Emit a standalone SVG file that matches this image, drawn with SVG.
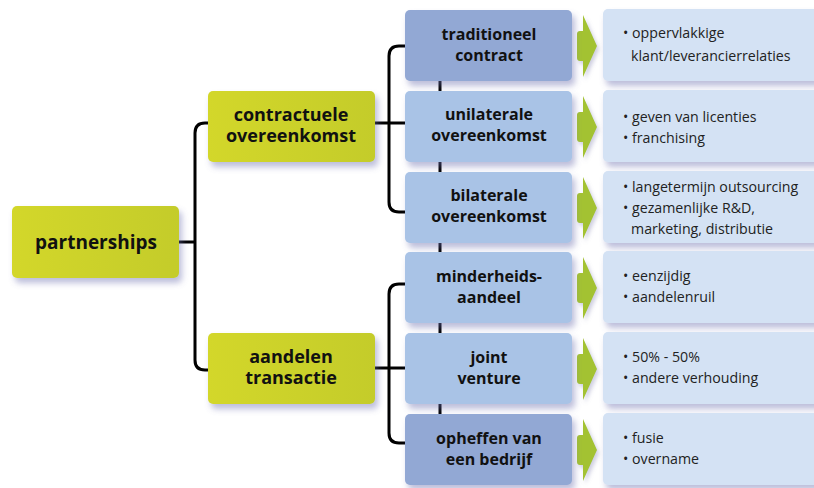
<svg xmlns="http://www.w3.org/2000/svg" width="814" height="488" viewBox="0 0 814 488">
<defs>
<linearGradient id="gGreen" x1="0" y1="0" x2="1" y2="0"><stop offset="0" stop-color="#d3d72b"/><stop offset="1" stop-color="#c4cc2b"/></linearGradient>
<filter id="sh" x="-10%" y="-20%" width="125%" height="150%"><feDropShadow dx="3" dy="5" stdDeviation="3" flood-color="#6b6fae" flood-opacity="0.45"/></filter>
<filter id="shA" x="-50%" y="-20%" width="200%" height="150%"><feDropShadow dx="2" dy="3" stdDeviation="2" flood-color="#8080b0" flood-opacity="0.4"/></filter>
<path id="arr" d="M583 0 L597 31 L583 62 L583 46 L580 46 Q577 46 577 43 L577 19 Q577 16 580 16 L583 16 Z"/>
</defs>
<style>
.green{fill:url(#gGreen);filter:url(#sh)}
.dark{fill:#92a8d4;filter:url(#sh)}
.light{fill:#a9c3e6;filter:url(#sh)}
.pale{fill:#d4e2f4;filter:url(#sh)}
.arrow{fill:#a3c232;filter:url(#shA)}
.lbl{font-family:"Open Sans","Noto Sans",sans-serif;font-weight:700;fill:#111;text-anchor:middle}
.big{font-size:18px}
.mid{font-size:16px}
.item{font-family:"Open Sans","Noto Sans",sans-serif;font-size:14.2px;fill:#222}
.ln{fill:none;stroke:#000;stroke-width:3}
</style>
<rect width="814" height="488" fill="#fff"/>
<g id="connectors">
<path class="ln" d="M440 60 V440"/>
<path class="ln" d="M179 242 H195"/>
<path class="ln" d="M208 123 H205 Q195 123 195 133 V360 Q195 370 205 370 H208"/>
<path class="ln" d="M375 123 H405"/>
<path class="ln" d="M405 46 H399 Q389 46 389 56 V202 Q389 212 399 212 H405"/>
<path class="ln" d="M375 368 H405"/>
<path class="ln" d="M405 284 H399 Q389 284 389 294 V433 Q389 443 399 443 H405"/>
</g>
<g id="arrows">
<use href="#arr" class="arrow" transform="translate(0,15)"/>
<use href="#arr" class="arrow" transform="translate(0,96)"/>
<use href="#arr" class="arrow" transform="translate(0,177)"/>
<use href="#arr" class="arrow" transform="translate(0,257)"/>
<use href="#arr" class="arrow" transform="translate(0,338)"/>
<use href="#arr" class="arrow" transform="translate(0,419)"/>
</g>
<g id="partnerships"><rect class="green" x="12" y="206" width="167" height="72" rx="5"/><text class="lbl" font-size="19" x="96" y="249">partnerships</text></g>
<g id="contractuele"><rect class="green" x="208" y="91" width="167" height="71" rx="5"/><text class="lbl big" x="291" y="121">contractuele</text><text class="lbl big" x="291" y="142">overeenkomst</text></g>
<g id="aandelen"><rect class="green" x="208" y="333" width="167" height="71" rx="5"/><text class="lbl big" x="291" y="363">aandelen</text><text class="lbl big" x="291" y="384">transactie</text></g>
<g id="traditioneel"><rect class="dark" x="405" y="10" width="167" height="71" rx="5"/><text class="lbl mid" x="489" y="40">traditioneel</text><text class="lbl mid" x="489" y="61">contract</text></g>
<g id="unilaterale"><rect class="light" x="405" y="91" width="167" height="71" rx="5"/><text class="lbl mid" x="489" y="120">unilaterale</text><text class="lbl mid" x="489" y="141">overeenkomst</text></g>
<g id="bilaterale"><rect class="light" x="405" y="172" width="167" height="71" rx="5"/><text class="lbl mid" x="489" y="201">bilaterale</text><text class="lbl mid" x="489" y="222">overeenkomst</text></g>
<g id="minderheids"><rect class="light" x="405" y="252" width="167" height="71" rx="5"/><text class="lbl mid" x="489" y="282">minderheids-</text><text class="lbl mid" x="489" y="303">aandeel</text></g>
<g id="joint"><rect class="light" x="405" y="333" width="167" height="71" rx="5"/><text class="lbl mid" x="489" y="363">joint</text><text class="lbl mid" x="489" y="384">venture</text></g>
<g id="opheffen"><rect class="dark" x="405" y="414" width="167" height="71" rx="5"/><text class="lbl mid" x="489" y="444">opheffen van</text><text class="lbl mid" x="489" y="465">een bedrijf</text></g>
<g id="r1"><rect class="pale" x="603" y="9" width="230" height="72" rx="5"/><text class="item" x="623" y="38">• oppervlakkige</text><text class="item" x="631" y="61">klant/leverancierrelaties</text></g>
<g id="r2"><rect class="pale" x="603" y="90" width="230" height="72" rx="5"/><text class="item" x="623" y="122">• geven van licenties</text><text class="item" x="623" y="143">• franchising</text></g>
<g id="r3"><rect class="pale" x="603" y="171" width="230" height="72" rx="5"/><text class="item" x="623" y="192">• langetermijn outsourcing</text><text class="item" x="623" y="213">• gezamenlijke R&amp;D,</text><text class="item" x="631" y="234">marketing, distributie</text></g>
<g id="r4"><rect class="pale" x="603" y="251" width="230" height="72" rx="5"/><text class="item" x="623" y="281">• eenzijdig</text><text class="item" x="623" y="302">• aandelenruil</text></g>
<g id="r5"><rect class="pale" x="603" y="332" width="230" height="72" rx="5"/><text class="item" x="623" y="362">• 50% - 50%</text><text class="item" x="623" y="383">• andere verhouding</text></g>
<g id="r6"><rect class="pale" x="603" y="413" width="230" height="72" rx="5"/><text class="item" x="623" y="443">• fusie</text><text class="item" x="623" y="464">• overname</text></g>
</svg>
